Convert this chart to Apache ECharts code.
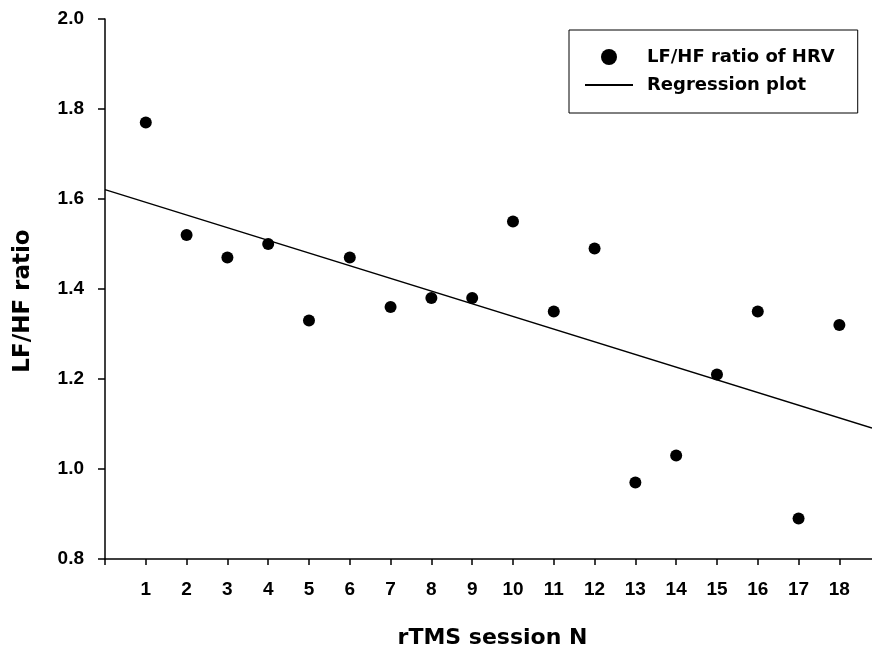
<!DOCTYPE html>
<html>
<head>
<meta charset="utf-8">
<script src="https://cdn.jsdelivr.net/npm/echarts@6/dist/echarts.min.js"></script>
<style>
html,body{margin:0;padding:0;background:#fff;}
#c{width:872px;height:654px;}
</style>
</head>
<body>
<div id="c"></div>
<script>
var sessions = [1,2,3,4,5,6,7,8,9,10,11,12,13,14,15,16,17,18];
var lfhfValues = [1.77,1.52,1.47,1.50,1.33,1.47,1.36,1.38,1.38,1.55,1.35,1.49,0.97,1.03,1.21,1.35,0.89,1.32];
var regressionX = [0, 18.8];
var regressionY = [1.621, 1.091];
var yTicks = [0.8, 1.0, 1.2, 1.4, 1.6, 1.8, 2.0];

var TICKFONT = '"Liberation Sans", Arial, sans-serif';
var TITLEFONT = '"DejaVu Sans", sans-serif';
var chart = echarts.init(document.getElementById('c'));
chart.setOption({
  animation: false,
  backgroundColor: '#fff',
  grid: {left: 105, top: 19, right: 0, bottom: 93, containLabel: false},
  legend: {
    orient: 'vertical',
    left: 569, top: 30,
    padding: [18, 23, 19, 15],
    borderColor: '#000', borderWidth: 1,
    itemWidth: 48, itemHeight: 16, itemGap: 10,
    textStyle: {fontFamily: TITLEFONT, fontWeight: 'bold', fontSize: 18, color: '#000', padding: [0,0,0,9]},
    data: [
      {name: 'LF/HF ratio of HRV', icon: 'circle'},
      {name: 'Regression plot', itemStyle: {opacity: 0}}
    ]
  },
  xAxis: {
    type: 'value', min: 0, max: regressionX[1], interval: 1,
    name: 'rTMS session N', nameLocation: 'middle', nameGap: 68,
    nameTextStyle: {fontFamily: TITLEFONT, fontWeight: 'bold', fontSize: 22, color: '#000', padding: [0, 0, 0, 8]},
    axisLine: {lineStyle: {color: '#000', width: 1.5}},
    axisTick: {show: true, length: 6, lineStyle: {color: '#000', width: 1.5}},
    axisLabel: {
      margin: 21, fontFamily: TICKFONT, fontWeight: 'bold', fontSize: 19, color: '#000',
      showMaxLabel: false,
      formatter: function (v) { return sessions.indexOf(v) >= 0 ? String(v) : ''; }
    },
    splitLine: {show: false}
  },
  yAxis: {
    type: 'value', min: yTicks[0], max: yTicks[yTicks.length - 1], interval: 0.2,
    name: 'LF/HF ratio', nameLocation: 'middle', nameGap: 70,
    nameTextStyle: {fontFamily: TITLEFONT, fontWeight: 'bold', fontSize: 23, color: '#000', padding: [0, 24, 0, 0]},
    axisLine: {lineStyle: {color: '#000', width: 1.5}},
    axisTick: {show: true, length: 7, lineStyle: {color: '#000', width: 1.5}},
    axisLabel: {
      margin: 21, fontFamily: TICKFONT, fontWeight: 'bold', fontSize: 19, color: '#000',
      formatter: function (v) { return v.toFixed(1); }
    },
    splitLine: {show: false}
  },
  series: [
    {
      name: 'LF/HF ratio of HRV', type: 'scatter', symbol: 'circle', symbolSize: 12,
      itemStyle: {color: '#000', opacity: 1},
      data: sessions.map(function (s, i) { return [s, lfhfValues[i]]; })
    },
    {
      name: 'Regression plot', type: 'line', symbol: 'none',
      itemStyle: {color: '#000'},
      lineStyle: {color: '#000', width: 1.3},
      data: regressionX.map(function (x, i) { return [x, regressionY[i]]; })
    }
  ]
});
</script>
</body>
</html>
